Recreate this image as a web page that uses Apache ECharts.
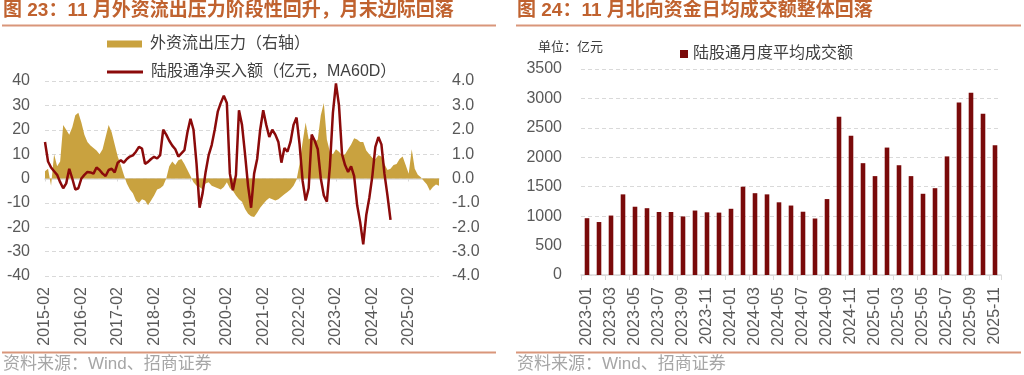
<!DOCTYPE html>
<html>
<head>
<meta charset="utf-8">
<script src="https://cdn.jsdelivr.net/npm/echarts@6/dist/echarts.min.js"></script>
<style>
html,body{margin:0;padding:0;background:#fff;}
#c{width:1024px;height:375px;}
</style>
</head>
<body>
<div id="c"></div>
<script>
// ---------- Left chart data (monthly, starting 2015-02) ----------
const leftStart = [2015, 2];
const leftMonths = 131; // 2015-02 .. 2025-12
// 外资流出压力（右轴）
const outflowPressure = [
  0.3, 0.4, -0.3, 1.0, 0.5, 0.7, 2.2, 2.0, 1.8, 2.1,
  2.6, 2.7, 2.3, 1.8, 1.5, 1.35, 1.25, 1.15, 1.0, 1.2,
  1.7, 2.2, 1.9, 1.4, 0.9, 0.55, 0.15, -0.2, -0.45, -0.6,
  -0.9, -1.0, -0.85, -0.9, -1.1, -0.9, -0.7, -0.45, -0.4, -0.3,
  0.0, 0.5, 0.7, 0.55, 0.75, 0.8, 0.6, 0.35, 0.1, -0.15,
  -0.3, -0.35, -0.45, -0.2, -0.15, -0.3, -0.35, -0.4, -0.45, -0.35,
  -0.15, -0.4, -0.5, -0.7, -0.85, -0.95, -1.25, -1.45, -1.55, -1.58,
  -1.4, -1.2, -1.05, -0.9, -0.8, -0.85, -0.9, -0.85, -0.75, -0.65,
  -0.55, -0.45, -0.3, -0.05, 0.6, 1.5, 2.3, 1.6, 1.7, 1.5,
  1.6, 2.6, 3.1, 1.6, 1.1, 1.0, 1.2, 1.1, 0.95, 1.0,
  1.2, 1.4, 1.65, 1.6, 1.5, 1.5, 1.15, 1.0, 0.85, 0.8,
  0.95, 0.9, 0.6, 0.35, 0.4, 0.55, 0.6, 0.8, 0.9, 0.55,
  0.2, 1.2, 0.4, 0.15, 0.05, -0.1, -0.25, -0.5, -0.35, -0.25,
  -0.3
];
// 陆股通净买入额（亿元，MA60D）
const northboundNet = [
  15, 7, 4.5, 3, 1.5, -1.5, -4, -2, 4, 0,
  -4.5, -4, 0, 1.5, 2.7, 2.5, 2, 4.5, 3.5, 2,
  1, 3.5, 4, 2.5, 6.5, 7.5, 6.5, 8, 9, 9.5,
  11, 13, 12.3, 6, 6.8, 8, 8.9, 8.2, 9.6, 20,
  18, 15.5, 13.5, 12, 9, 10.3, 11.6, 19, 24.5, 20,
  6, -12, -6, 2.7, 9.6, 13.7, 20, 27.4, 31, 34,
  31, 2, -4.8, 1.4, 28, 22, 10, -3, -12, 2,
  8, 20, 28, 22, 17, 20, 18, 15, 6.5, 12.5,
  11, 15, 22, 25, 14, -1, -9, -4, 18, 15.5,
  12, 0, -7, -9.5, 5, 27, 39, 30, 10, 5.5,
  2.7, 5, 1, -11, -18, -27, -15, -8, 1, 13,
  17, 14, 2, -7, -17
];
const leftYTicks = [-40, 40, 10];
const rightYTicks = [-4, 4, 1];

// ---------- Right chart data ----------
const rightCategories = [
  '2023-01','2023-02','2023-03','2023-04','2023-05','2023-06','2023-07','2023-08','2023-09','2023-10','2023-11','2023-12',
  '2024-01','2024-02','2024-03','2024-04','2024-05','2024-06','2024-07','2024-08','2024-09','2024-10','2024-11','2024-12',
  '2025-01','2025-02','2025-03','2025-04','2025-05','2025-06','2025-07','2025-08','2025-09','2025-10','2025-11'
];
// 陆股通月度平均成交额（亿元）
const monthlyTurnover = [
  965, 900, 1010, 1370, 1160, 1135, 1070, 1070, 995, 1095, 1065, 1060,
  1125, 1500, 1390, 1370, 1235, 1180, 1075, 960, 1290, 2690, 2365, 1900,
  1680, 2165, 1865, 1680, 1380, 1475, 2015, 2930, 3095, 2740, 2205
];
const barYTicks = [0, 3500, 500];

// month labels for left chart
const leftCategories = [];
for (let i = 0; i < leftMonths; i++) {
  const t = leftStart[1] - 1 + i;
  const y = leftStart[0] + Math.floor(t / 12);
  const m = (t % 12) + 1;
  leftCategories.push(y + '-' + (m < 10 ? '0' + m : m));
}

const FONT = '"Liberation Sans", Arial, "Noto Sans CJK SC", sans-serif';
const CJK = '"Liberation Sans", "Noto Sans CJK SC", sans-serif';
const labelGray = '#595959';
const gridGray = '#d9d9d9';
const gold = '#C9A23F';
const darkRed = '#8B0A0A';
const barRed = '#7A0A0A';
const titleColor = '#C0622F';
const ruleColor = '#D9967A';

const chart = echarts.init(document.getElementById('c'), null, {renderer: 'canvas'});

const option = {
  animation: false,
  backgroundColor: '#fff',
  textStyle: {fontFamily: FONT},
  grid: [
    {left: 45, top: 81, width: 394, height: 195, containLabel: false},
    {left: 581, top: 69, width: 420, height: 206, containLabel: false}
  ],
  legend: [
    {
      left: 102, top: 31, itemWidth: 35, itemHeight: 7, itemGap: 0,
      data: [{name: '外资流出压力（右轴）', icon: 'rect'}],
      textStyle: {fontFamily: CJK, fontSize: 16, color: '#404040', padding: [0, 0, 0, 3]}
    },
    {
      left: 102, top: 59, itemWidth: 36, itemHeight: 3, itemGap: 0,
      data: [{name: '陆股通净买入额（亿元，MA60D）', icon: 'rect'}],
      textStyle: {fontFamily: CJK, fontSize: 16, color: '#404040', padding: [0, 0, 0, 3]}
    },
    {
      left: 675, top: 41, itemWidth: 8, itemHeight: 8,
      data: [{name: '陆股通月度平均成交额', icon: 'rect'}],
      textStyle: {fontFamily: CJK, fontSize: 16, color: '#404040', padding: [0, 0, 0, 0]}
    }
  ],
  xAxis: [
    {
      gridIndex: 0, type: 'category', data: leftCategories, boundaryGap: false,
      position: 'bottom',
      axisLine: {show: false, onZero: false},
      axisTick: {show: false},
      axisLabel: {interval: 11, rotate: 90, margin: 11, fontSize: 16, color: labelGray, fontFamily: FONT},
      splitLine: {show: false}
    },
    {
      gridIndex: 0, type: 'category', data: leftCategories, boundaryGap: false,
      position: 'bottom',
      axisLine: {show: true, onZero: true, onZeroAxisIndex: 0, lineStyle: {color: gridGray, width: 1.5}},
      axisTick: {show: true, interval: 11, length: 3, lineStyle: {color: gridGray}},
      axisLabel: {show: false},
      splitLine: {show: false}
    },
    {
      gridIndex: 1, type: 'category', data: rightCategories, boundaryGap: true,
      axisLine: {show: true, lineStyle: {color: gridGray, width: 1.5}},
      axisTick: {show: true, interval: 1, length: 5, lineStyle: {color: gridGray}},
      axisLabel: {interval: 1, rotate: 90, margin: 12, fontSize: 16, color: labelGray, fontFamily: FONT},
      splitLine: {show: false}
    }
  ],
  yAxis: [
    {
      gridIndex: 0, type: 'value', min: leftYTicks[0], max: leftYTicks[1], interval: leftYTicks[2],
      axisLine: {show: false}, axisTick: {show: false},
      axisLabel: {margin: 15, fontSize: 16, color: labelGray, fontFamily: FONT},
      splitLine: {show: true, lineStyle: {color: gridGray, type: [4, 3], width: 1}}
    },
    {
      gridIndex: 0, type: 'value', min: rightYTicks[0], max: rightYTicks[1], interval: rightYTicks[2],
      position: 'right',
      axisLine: {show: false}, axisTick: {show: false},
      axisLabel: {margin: 13, fontSize: 16, color: labelGray, fontFamily: FONT,
        formatter: v => v.toFixed(1)},
      splitLine: {show: false}
    },
    {
      gridIndex: 1, type: 'value', min: barYTicks[0], max: barYTicks[1], interval: barYTicks[2],
      axisLine: {show: false}, axisTick: {show: false},
      axisLabel: {margin: 19, fontSize: 16, color: labelGray, fontFamily: FONT,
        formatter: v => String(v)},
      splitLine: {show: true, lineStyle: {color: gridGray, type: [4, 3], width: 1}}
    }
  ],
  series: [
    {
      name: '外资流出压力（右轴）', type: 'line', xAxisIndex: 0, yAxisIndex: 1,
      data: outflowPressure, symbol: 'none', smooth: false,
      lineStyle: {width: 0, color: gold},
      itemStyle: {color: gold},
      areaStyle: {color: gold, opacity: 1},
      z: 1
    },
    {
      name: '陆股通净买入额（亿元，MA60D）', type: 'line', xAxisIndex: 0, yAxisIndex: 0,
      data: northboundNet, symbol: 'none', smooth: false,
      lineStyle: {width: 2.5, color: darkRed},
      itemStyle: {color: darkRed},
      z: 3
    },
    {
      name: '陆股通月度平均成交额', type: 'bar', xAxisIndex: 2, yAxisIndex: 2,
      data: monthlyTurnover, barWidth: 4.6,
      itemStyle: {color: barRed}
    }
  ],
  graphic: [
    {type: 'text', left: 3, top: 1, style: {text: '图 23：11 月外资流出压力阶段性回升，月末边际回落',
      fill: titleColor, font: 'bold 19px ' + CJK}},
    {type: 'line', shape: {x1: 2, y1: 25.5, x2: 496, y2: 25.5}, style: {stroke: ruleColor, lineWidth: 2}},
    {type: 'text', left: 517, top: 1, style: {text: '图 24：11 月北向资金日均成交额整体回落',
      fill: titleColor, font: 'bold 19px ' + CJK}},
    {type: 'line', shape: {x1: 516, y1: 25.5, x2: 1021, y2: 25.5}, style: {stroke: ruleColor, lineWidth: 2}},
    {type: 'line', shape: {x1: 2, y1: 352.5, x2: 496, y2: 352.5}, style: {stroke: ruleColor, lineWidth: 2}},
    {type: 'line', shape: {x1: 516, y1: 352.5, x2: 1021, y2: 352.5}, style: {stroke: ruleColor, lineWidth: 2}},
    {type: 'text', left: 3, top: 356, style: {text: '资料来源：Wind、招商证券', fill: '#a6a6a6', font: '17px ' + CJK}},
    {type: 'text', left: 517, top: 356, style: {text: '资料来源：Wind、招商证券', fill: '#a6a6a6', font: '17px ' + CJK}},
    {type: 'text', left: 538, top: 41, style: {text: '单位：亿元', fill: '#404040', font: '13px ' + CJK}}
  ]
};
chart.setOption(option);
</script>
</body>
</html>
